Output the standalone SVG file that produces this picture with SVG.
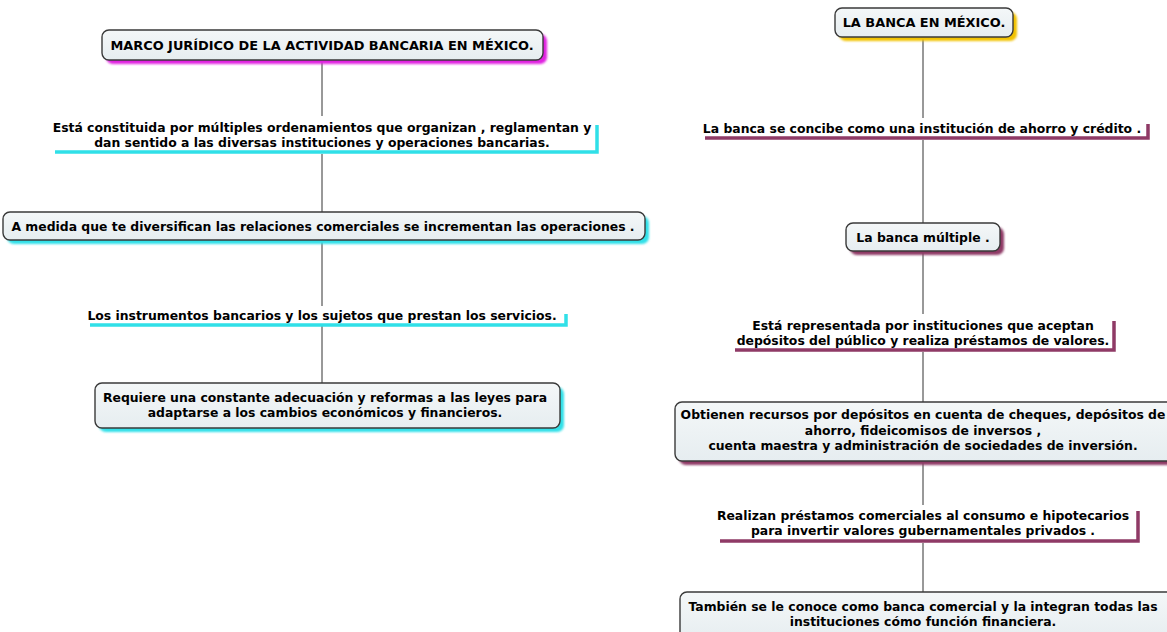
<svg xmlns="http://www.w3.org/2000/svg" width="1167" height="632" viewBox="0 0 1167 632">
<defs>
<linearGradient id="bg" x1="0" y1="0" x2="0" y2="1">
<stop offset="0" stop-color="#f4f7f8"/><stop offset="1" stop-color="#e6edf0"/>
</linearGradient>
<filter id="blur" x="-5%" y="-20%" width="110%" height="140%"><feGaussianBlur stdDeviation="0.8"/></filter>
</defs>
<style>
text{font-family:"DejaVu Sans",Verdana,sans-serif;font-weight:bold;font-size:12.4px;fill:#000;text-anchor:middle}
.t{font-size:12.9px}
.box{fill:url(#bg);stroke:#3a3a3a;stroke-width:1.4}
.conn{stroke:#333;stroke-width:1;fill:none}
.ul{fill:none;stroke-width:3.5;stroke-linejoin:miter}
.cy{stroke:#30e0e8}
.mr{stroke:#8f3a66}
</style>
<rect width="1167" height="632" fill="#fff"/>
<g id="connectors">
<line class="conn" x1="322" y1="60" x2="322" y2="383"/>
<line class="conn" x1="923" y1="37" x2="923" y2="592"/>
</g>
<g id="n1">
<rect x="106" y="34" width="441" height="30" rx="7" fill="#e020e0" filter="url(#blur)"/>
<rect class="box" x="102" y="30" width="441" height="30" rx="7"/>
<text class="t" x="322" y="50">MARCO JURÍDICO DE LA ACTIVIDAD BANCARIA EN MÉXICO.</text>
</g>
<g id="n2">
<rect x="50" y="116" width="550" height="38" fill="#fff"/>
<path class="ul cy" d="M55,152 H597 V125"/>
<text x="322" y="132">Está constituida por múltiples ordenamientos que organizan , reglamentan y</text>
<text x="322" y="147">dan sentido a las diversas instituciones y operaciones bancarias.</text>
</g>
<g id="n3">
<rect x="7" y="216" width="642" height="28" rx="7" fill="#30e0e8" filter="url(#blur)"/>
<rect class="box" x="3" y="212" width="642" height="28" rx="7"/>
<text x="323" y="231">A medida que te diversifican las relaciones comerciales se incrementan las operaciones .</text>
</g>
<g id="n4">
<rect x="85" y="306" width="485" height="20" fill="#fff"/>
<path class="ul cy" d="M90,325 H566 V314"/>
<text x="322" y="320">Los instrumentos bancarios y los sujetos que prestan los servicios.</text>
</g>
<g id="n5">
<rect x="99" y="387" width="465" height="45" rx="7" fill="#30e0e8" filter="url(#blur)"/>
<rect class="box" x="95" y="383" width="465" height="45" rx="7"/>
<text x="325" y="402">Requiere una constante adecuación y reformas a las leyes para</text>
<text x="325" y="417">adaptarse a los cambios económicos y financieros.</text>
</g>
<g id="r1">
<rect x="839" y="12" width="178" height="29" rx="7" fill="#f2c200" filter="url(#blur)"/>
<rect class="box" x="835" y="8" width="178" height="29" rx="7"/>
<text class="t" x="924" y="27">LA BANCA EN MÉXICO.</text>
</g>
<g id="r2">
<rect x="700" y="118" width="452" height="22" fill="#fff"/>
<path class="ul mr" d="M705,138 H1148 V124"/>
<text x="922" y="133">La banca se concibe como una institución de ahorro y crédito .</text>
</g>
<g id="r3">
<rect x="850" y="227" width="154" height="28" rx="7" fill="#8f3a66" filter="url(#blur)"/>
<rect class="box" x="846" y="223" width="154" height="28" rx="7"/>
<text x="923" y="242">La banca múltiple .</text>
</g>
<g id="r4">
<rect x="730" y="314" width="388" height="38" fill="#fff"/>
<path class="ul mr" d="M735,350 H1114 V321"/>
<text x="923" y="330">Está representada por instituciones que aceptan</text>
<text x="923" y="345">depósitos del público y realiza préstamos de valores.</text>
</g>
<g id="r5">
<rect x="679" y="406" width="500" height="59" rx="7" fill="#8f3a66" filter="url(#blur)"/>
<rect class="box" x="675" y="402" width="500" height="59" rx="7"/>
<text x="923" y="419">Obtienen recursos por depósitos en cuenta de cheques, depósitos de</text>
<text x="923" y="435">ahorro, fideicomisos de inversos ,</text>
<text x="923" y="450">cuenta maestra y administración de sociedades de inversión.</text>
</g>
<g id="r6">
<rect x="715" y="505" width="428" height="38" fill="#fff"/>
<path class="ul mr" d="M720,541 H1138 V511"/>
<text x="923" y="520">Realizan préstamos comerciales al consumo e hipotecarios</text>
<text x="923" y="535">para invertir valores gubernamentales privados .</text>
</g>
<g id="r7">
<rect class="box" x="680" y="592" width="500" height="50" rx="7"/>
<text x="923" y="611">También se le conoce como banca comercial y la integran todas las</text>
<text x="923" y="626">instituciones cómo función financiera.</text>
</g>
</svg>
